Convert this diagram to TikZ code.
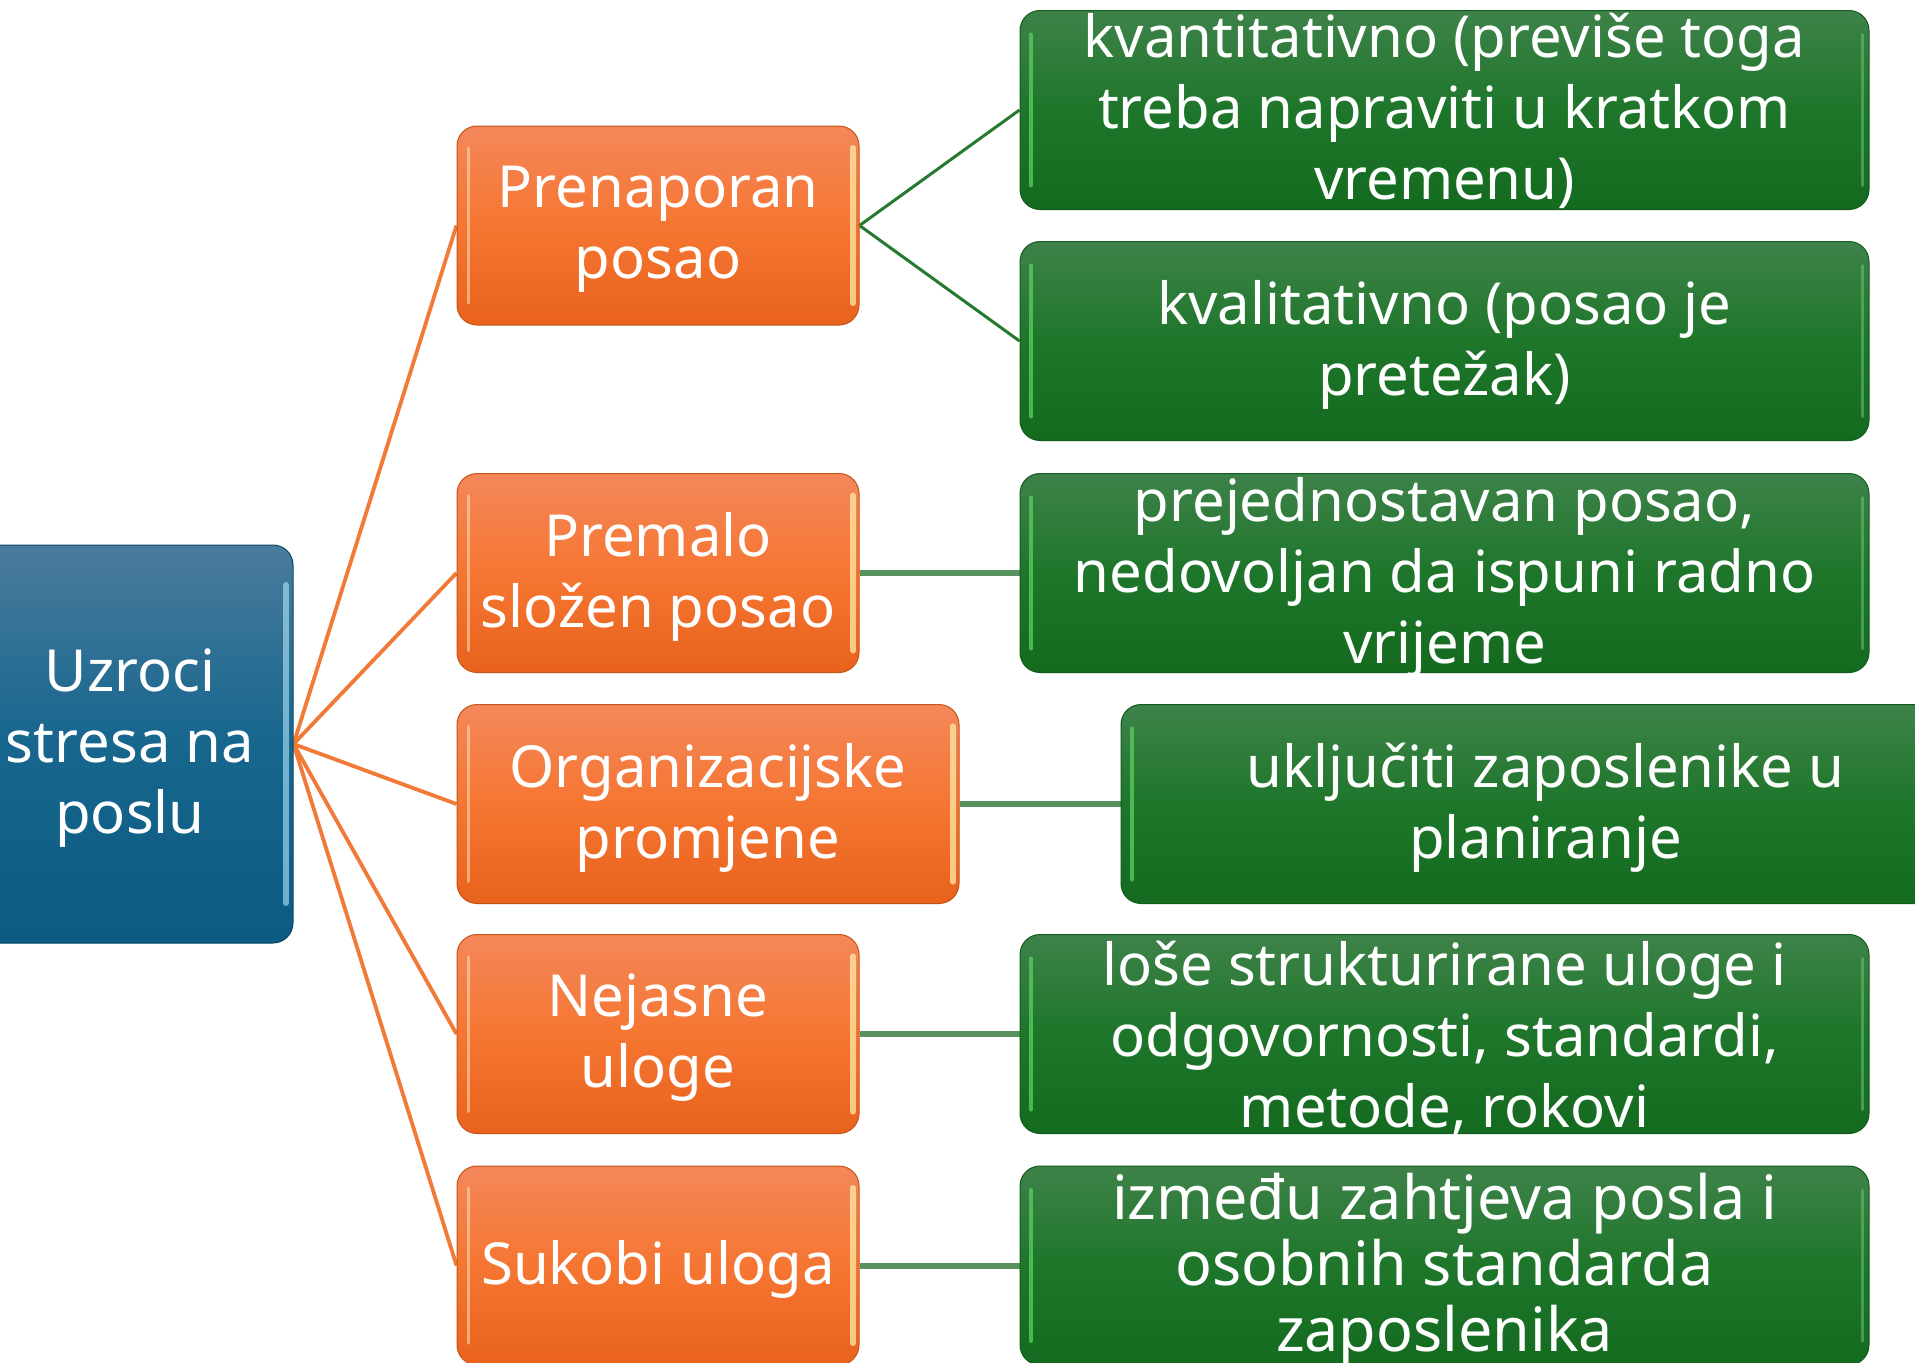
\documentclass[tikz,border=0pt]{standalone}
\usepackage{fontspec}
\setmainfont{Noto Sans}
\usetikzlibrary{backgrounds}
\definecolor{bTop}{HTML}{4A7B9C}
\definecolor{bMid}{HTML}{16668E}
\definecolor{bBot}{HTML}{0D5A82}
\definecolor{oTop}{HTML}{F4875A}
\definecolor{oMid}{HTML}{F57632}
\definecolor{oBot}{HTML}{E8621C}
\definecolor{gTop}{HTML}{3E824A}
\definecolor{gMid}{HTML}{1E762A}
\definecolor{gBot}{HTML}{146B20}
\definecolor{oLine}{HTML}{F27A38}
\definecolor{gLine}{HTML}{5A925F}
\definecolor{gDiag}{HTML}{267A30}
\tikzset{
  box/.style={rounded corners=20pt, inner sep=0pt},
  txt/.style={inner sep=0pt, align=center, text=white, yshift=-4pt,
    font=\fontsize{58}{71}\selectfont},
  rootbox/.style={box, draw=bBot!80!black, line width=1pt, top color=bTop, bottom color=bBot, middle color=bMid,
    minimum width=326pt, minimum height=398pt,
    path picture={\draw[line width=6pt, color=cyan!30!white, opacity=0.6, line cap=round]
      ([xshift=-7pt,yshift=-40pt]path picture bounding box.north east) --
      ([xshift=-7pt,yshift=40pt]path picture bounding box.south east);}},
  obox/.style={box, draw=oBot!85!black, line width=1pt, top color=oTop, bottom color=oBot, middle color=oMid,
    minimum height=199pt,
    path picture={
      \draw[line width=6pt, color=yellow!45!orange!35!white, opacity=0.8, line cap=round]
        ([xshift=-6pt,yshift=-22pt]path picture bounding box.north east) --
        ([xshift=-6pt,yshift=22pt]path picture bounding box.south east);
      \draw[line width=3pt, color=orange!30!white, opacity=0.6, line cap=round]
        ([xshift=11pt,yshift=-22pt]path picture bounding box.north west) --
        ([xshift=11pt,yshift=22pt]path picture bounding box.south west);}},
  gbox/.style={box, draw=gBot!85!black, line width=1pt, top color=gTop, bottom color=gBot, middle color=gMid,
    minimum width=849pt, minimum height=199pt,
    path picture={
      \draw[line width=4pt, color=green!45!gMid!70!white, opacity=0.8, line cap=round]
        ([xshift=11pt,yshift=-24pt]path picture bounding box.north west) --
        ([xshift=11pt,yshift=24pt]path picture bounding box.south west);
      \draw[line width=3pt, color=green!40!gMid!60!white, opacity=0.5, line cap=round]
        ([xshift=-7pt,yshift=-24pt]path picture bounding box.north east) --
        ([xshift=-7pt,yshift=24pt]path picture bounding box.south east);}},
  oconn/.style={draw=oLine, line width=3.8pt},
  gconn/.style={draw=gLine, line width=6pt},
  gdiag/.style={draw=gDiag, line width=3pt},
}
\begin{document}
\begin{tikzpicture}[x=1pt, y=-1pt]
\path[use as bounding box, clip] (0,0) rectangle (1915,1363);

\node[rootbox] (root) at (130,744) {};
\node[txt] (roott) at (root) {Uzroci\\stresa na\\poslu};

\node[obox, minimum width=402pt] (o1) at (658,225.5) {};
\node[obox, minimum width=402pt] (o2) at (658,573) {};
\node[obox, minimum width=502pt] (o3) at (708,804) {};
\node[obox, minimum width=402pt] (o4) at (658,1034) {};
\node[obox, minimum width=402pt] (o5) at (658,1265.5) {};
\node[txt] (o1t) at (o1) {Prenaporan\\posao};
\node[txt] (o2t) at (o2) {Premalo\\složen posao};
\node[txt] (o3t) at (o3) {Organizacijske\\promjene};
\node[txt] (o4t) at (o4) {Nejasne\\uloge};
\node[txt] (o5t) at (o5) {Sukobi uloga};

\node[gbox] (g1) at (1444.5,110) {};
\node[gbox] (g2) at (1444.5,341) {};
\node[gbox] (g3) at (1444.5,573) {};
\node[gbox] (g4) at (1545.5,804) {};
\node[gbox] (g5) at (1444.5,1034) {};
\node[gbox] (g6) at (1444.5,1265.5) {};
\node[txt, yshift=3pt] (g1t) at (g1) {kvantitativno (previše toga\\treba napraviti u kratkom\\vremenu)};
\node[txt] (g2t) at (g2) {kvalitativno (posao je\\pretežak)};
\node[txt] (g3t) at (g3) {prejednostavan posao,\\nedovoljan da ispuni radno\\vrijeme};
\node[txt] (g4t) at (g4) {uključiti zaposlenike u\\planiranje};
\node[txt] (g5t) at (g5) {loše strukturirane uloge i\\odgovornosti, standardi,\\metode, rokovi};
\node[txt, font=\fontsize{61}{66}\selectfont] (g6t) at (g6) {između zahtjeva posla i\\osobnih standarda\\zaposlenika};

\begin{scope}[on background layer]
\fill[white] (0,0) rectangle (1915,1363);
\foreach \o in {o1,o2,o3,o4,o5} \draw[oconn] (root.east) -- (\o.west);
\draw[gdiag] (o1.east) -- (g1.west);
\draw[gdiag] (o1.east) -- (g2.west);
\draw[gconn] (o2.east) -- (g3.west);
\draw[gconn] (o3.east) -- (g4.west);
\draw[gconn] (o4.east) -- (g5.west);
\draw[gconn] (o5.east) -- (g6.west);
\end{scope}
\end{tikzpicture}
\end{document}
